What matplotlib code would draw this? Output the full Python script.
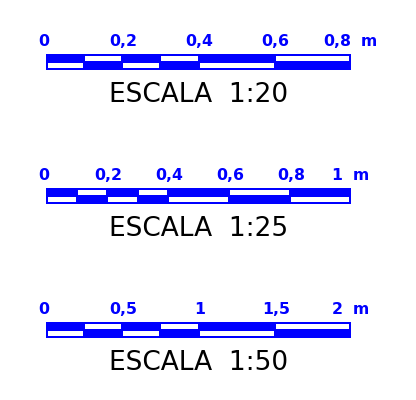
import matplotlib
matplotlib.use("Agg")
import matplotlib.pyplot as plt
from matplotlib.patches import Rectangle

# segment edges of each scale bar (metres)
edges_20 = [0, 0.1, 0.2, 0.3, 0.4, 0.6, 0.8]
edges_25 = [0, 0.1, 0.2, 0.3, 0.4, 0.6, 0.8, 1.0]
edges_50 = [0, 0.25, 0.5, 0.75, 1.0, 1.5, 2.0]

# labelled distances and their texts
ticks_20 = [0, 0.2, 0.4, 0.6, 0.8]
labels_20 = ["0", "0,2", "0,4", "0,6", "0,8"]
ticks_25 = [0, 0.2, 0.4, 0.6, 0.8, 1.0]
labels_25 = ["0", "0,2", "0,4", "0,6", "0,8", "1"]
ticks_50 = [0, 0.5, 1.0, 1.5, 2.0]
labels_50 = ["0", "0,5", "1", "1,5", "2"]

titles = ["ESCALA  1:20", "ESCALA  1:25", "ESCALA  1:50"]

BLUE = "#0000ff"
W, H = 416, 400
fig = plt.figure(figsize=(W / 100, H / 100), dpi=100)

bars = [(edges_20, ticks_20, labels_20, 54),
        (edges_25, ticks_25, labels_25, 188),
        (edges_50, ticks_50, labels_50, 322)]

bar_left, bar_w, bar_h = 46, 305, 16

for (edges, ticks, labels, top), title in zip(bars, titles):
    ax = fig.add_axes([bar_left / W, 1 - (top + bar_h) / H, bar_w / W, bar_h / H])
    total = edges[-1]
    ax.set_xlim(0, total)
    ax.set_ylim(0, 1)
    ax.axis("off")
    px = total / bar_w  # one pixel in metres

    # solid blue bar, then white strips alternating top / bottom
    ax.add_patch(Rectangle((0, 0), total, 1, facecolor=BLUE, edgecolor="none"))
    for i in range(len(edges) - 1):
        x0 = edges[i] + (2 if i == 0 else 1) * px
        x1 = edges[i + 1] - (2 if i == len(edges) - 2 else 1) * px
        if i % 2 == 0:
            y0, y1 = 2 / 16, 7.5 / 16
        else:
            y0, y1 = 9.5 / 16, 14 / 16
        ax.add_patch(Rectangle((x0, y0), x1 - x0, y1 - y0,
                               facecolor="white", edgecolor="none"))

    # distance labels above the bar
    last = None
    for j, (t, lab) in enumerate(zip(ticks, labels)):
        dx = -14 if j == len(ticks) - 1 else (-2 if j == 0 else 1)
        last = ax.annotate(lab, xy=(t, 1), xytext=(dx, 8), textcoords="offset pixels",
                           ha="center", va="baseline", color=BLUE, fontweight="bold",
                           fontsize=11.3, family="DejaVu Sans", annotation_clip=False)
    ax.annotate("m", xy=(1, 1), xycoords=(last, ax.transData), xytext=(10, 8),
                textcoords="offset pixels", ha="left", va="baseline", color=BLUE,
                fontsize=11.3, family="DejaVu Sans", fontweight="bold",
                annotation_clip=False)

    # scale title below
    ax.annotate(title, xy=(0.5, 0), xycoords="axes fraction", xytext=(0, -32),
                textcoords="offset pixels", ha="center", va="baseline", color="black",
                fontsize=19, family="DejaVu Sans", annotation_clip=False)

fig.savefig("out.png", dpi=100, facecolor="white")
